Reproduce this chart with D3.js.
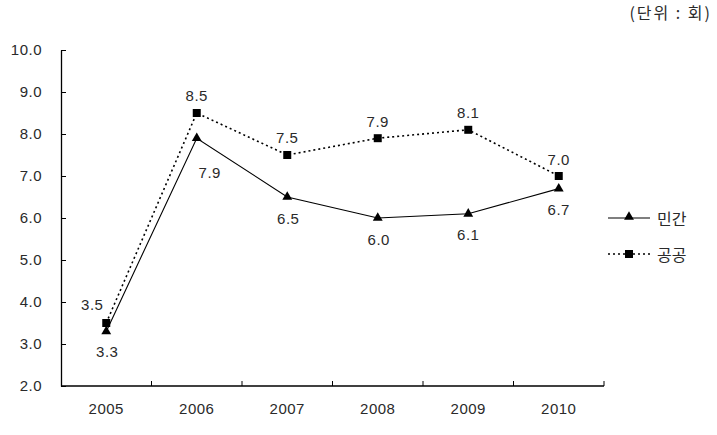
<!DOCTYPE html>
<html><head><meta charset="utf-8">
<script src="https://cdn.jsdelivr.net/npm/d3@7"></script>
<style>
body{margin:0;background:#fff;}
text{font-family:"Liberation Sans",Arial,"Noto Sans CJK KR",sans-serif;fill:#2a2a2a;}
</style></head>
<body><svg id="c" width="717" height="435"></svg>
<script>
const years = ["2005","2006","2007","2008","2009","2010"];
const privateVals = [3.3, 7.9, 6.5, 6.0, 6.1, 6.7];
const publicVals = [3.5, 8.5, 7.5, 7.9, 8.1, 7.0];
const seriesNames = ["민간","공공"];
const yTicks = [2,3,4,5,6,7,8,9,10];
const unitLabel = "(단위 : 회)";

const svg = d3.select("#c");
const M = {left: 61, right: 604, top: 50, bottom: 386};
const x = d3.scaleBand().domain(years).range([M.left, M.right]);
const y = d3.scaleLinear().domain([2, 10]).range([M.bottom, M.top]);
const cx = d => x(d) + x.bandwidth()/2;

// axes
const yAxis = svg.append("g").attr("transform",`translate(${M.left},0)`)
  .call(d3.axisLeft(y).tickValues(yTicks).tickFormat(d3.format(".1f")).tickSizeInner(-5).tickSizeOuter(0).tickPadding(19));
yAxis.select(".domain").attr("stroke","#000").attr("stroke-width",1.3);
yAxis.selectAll(".tick line").attr("stroke","#000");
yAxis.selectAll("text").attr("font-size",15).attr("fill","#2a2a2a").attr("letter-spacing","0.5px");

const xAxis = svg.append("g").attr("transform",`translate(0,${M.bottom})`)
  .call(d3.axisBottom(x).tickSize(0).tickPadding(17));
xAxis.selectAll("text").attr("font-size",15).attr("fill","#2a2a2a").attr("letter-spacing","0.5px");
xAxis.select(".domain").remove();
svg.append("line").attr("x1",M.left).attr("x2",M.right).attr("y1",M.bottom).attr("y2",M.bottom)
  .attr("stroke","#000").attr("stroke-width",1.3);
const bounds = years.map(d => x(d) + x.bandwidth());
svg.append("g").selectAll("line").data(bounds).join("line")
  .attr("x1",d=>d).attr("x2",d=>d).attr("y1",M.bottom).attr("y2",M.bottom-5).attr("stroke","#000");

const line = d3.line().x((d,i)=>cx(years[i])).y(d=>y(d));

// public (dotted)
svg.append("path").datum(publicVals).attr("d",line).attr("fill","none")
  .attr("stroke","#000").attr("stroke-width",1.6).attr("stroke-dasharray","2,3");
// private (solid)
svg.append("path").datum(privateVals).attr("d",line).attr("fill","none")
  .attr("stroke","#000").attr("stroke-width",1.1);

const tri = d3.symbol().type(d3.symbolTriangle).size(42);
svg.append("g").selectAll("path").data(privateVals).join("path")
  .attr("d",tri).attr("transform",(d,i)=>`translate(${cx(years[i])},${y(d)})`).attr("fill","#000");
svg.append("g").selectAll("rect").data(publicVals).join("rect")
  .attr("x",(d,i)=>cx(years[i])-4).attr("y",d=>y(d)-4).attr("width",8).attr("height",8).attr("fill","#000");

// value labels
const privOff = [[1,20],[13,34],[1,21],[1,21],[0,21],[0,21]];
const pubOff = [[-14,-19],[0,-18],[0,-18],[0,-17],[0,-17],[0,-17]];
svg.append("g").selectAll("text").data(privateVals).join("text")
  .attr("x",(d,i)=>cx(years[i])+privOff[i][0]).attr("y",(d,i)=>y(d)+privOff[i][1])
  .attr("text-anchor","middle").attr("dominant-baseline","central").attr("font-size",15).attr("letter-spacing","0.5px")
  .text(d=>d.toFixed(1));
svg.append("g").selectAll("text").data(publicVals).join("text")
  .attr("x",(d,i)=>cx(years[i])+pubOff[i][0]).attr("y",(d,i)=>y(d)+pubOff[i][1])
  .attr("text-anchor","middle").attr("dominant-baseline","central").attr("font-size",15).attr("letter-spacing","0.5px")
  .text(d=>d.toFixed(1));

// legend
const lg = svg.append("g");
lg.append("line").attr("x1",608).attr("x2",650).attr("y1",218).attr("y2",218).attr("stroke","#000").attr("stroke-width",1.1);
lg.append("path").attr("d",tri).attr("transform","translate(629,217)").attr("fill","#000");
lg.append("text").attr("x",657).attr("y",218).attr("dominant-baseline","central").attr("font-size",16)
  .style("font-family","'Noto Sans CJK KR',sans-serif").text(seriesNames[0]);
lg.append("line").attr("x1",608).attr("x2",650).attr("y1",254).attr("y2",254).attr("stroke","#000").attr("stroke-width",1.6).attr("stroke-dasharray","2,3");
lg.append("rect").attr("x",625).attr("y",250).attr("width",8).attr("height",8).attr("fill","#000");
lg.append("text").attr("x",657).attr("y",254).attr("dominant-baseline","central").attr("font-size",16)
  .style("font-family","'Noto Sans CJK KR',sans-serif").text(seriesNames[1]);

svg.append("text").attr("x",712).attr("y",12).attr("text-anchor","end").attr("dominant-baseline","central")
  .attr("font-size",16).attr("letter-spacing","2px").style("font-family","'Noto Sans CJK KR',sans-serif").text(unitLabel);
</script></body></html>
